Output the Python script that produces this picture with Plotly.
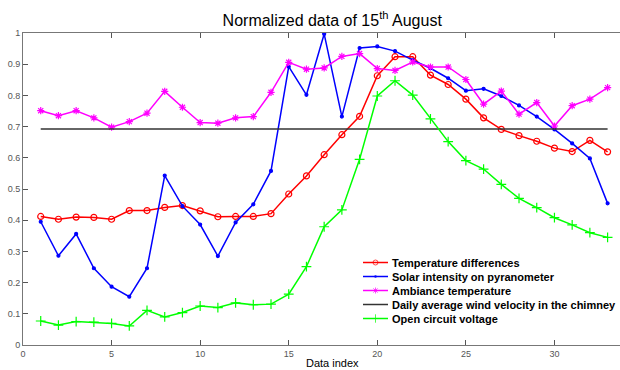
import plotly.graph_objects as go

idx = list(range(1, 34))

temp_diff = [0.412, 0.403, 0.410, 0.409, 0.403, 0.431, 0.431, 0.441, 0.447, 0.430,
             0.411, 0.412, 0.412, 0.421, 0.484, 0.542, 0.610, 0.674, 0.733, 0.863,
             0.924, 0.924, 0.865, 0.835, 0.788, 0.728, 0.691, 0.671, 0.653, 0.631,
             0.620, 0.656, 0.619]

solar = [0.395, 0.286, 0.356, 0.246, 0.187, 0.155, 0.246, 0.543, 0.445, 0.386,
         0.285, 0.393, 0.451, 0.558, 0.892, 0.802, 0.997, 0.732, 0.952, 0.957,
         0.942, 0.913, 0.887, 0.855, 0.815, 0.821, 0.798, 0.768, 0.732, 0.691,
         0.646, 0.598, 0.454]

ambiance = [0.751, 0.735, 0.751, 0.728, 0.698, 0.716, 0.743, 0.813, 0.762, 0.713,
            0.711, 0.728, 0.732, 0.810, 0.906, 0.884, 0.888, 0.925, 0.934, 0.886,
            0.880, 0.907, 0.891, 0.891, 0.851, 0.772, 0.814, 0.740, 0.777, 0.702,
            0.767, 0.788, 0.825]

wind_avg = [0.692] * 33

voltage = [0.077, 0.064, 0.075, 0.073, 0.069, 0.061, 0.111, 0.090, 0.104, 0.125,
           0.120, 0.135, 0.129, 0.131, 0.163, 0.251, 0.379, 0.433, 0.595, 0.798,
           0.847, 0.801, 0.725, 0.652, 0.591, 0.564, 0.515, 0.470, 0.440, 0.408,
           0.385, 0.360, 0.345]

names = ["Temperature differences", "Solar intensity on pyranometer",
         "Ambiance temperature", "Daily average wind velocity in the chimney",
         "Open circuit voltage"]

x_ticks = [0, 5, 10, 15, 20, 25, 30]
y_ticks = [0, 0.1, 0.2, 0.3, 0.4, 0.5, 0.6, 0.7, 0.8, 0.9, 1]
y_tick_text = ["0", "0.1", "0.2", "0.3", "0.4", "0.5", "0.6", "0.7", "0.8", "0.9", "1"]

# styles per series
colors = ["#ff0000", "#0000ff", "#ff00ff", "#333333", "#00ff00"]
symbols = ["circle-open", "circle", "asterisk-open", None, "cross-thin-open"]
msizes = [6, 3, 6, 0, 7]
series = [temp_diff, solar, ambiance, wind_avg, voltage]

fig = go.Figure()
for s, nm, c, sym, ms in zip(series, names, colors, symbols, msizes):
    if sym is None:
        fig.add_trace(go.Scatter(x=idx, y=s, name=nm, mode="lines", showlegend=False,
                                 line=dict(color=c, width=1.5)))
    else:
        fig.add_trace(go.Scatter(x=idx, y=s, name=nm, mode="lines+markers",
                                 showlegend=False,
                                 line=dict(color=c, width=1.5),
                                 marker=dict(symbol=sym, size=ms, color=c,
                                             line=dict(width=1.2, color=c))))

# hand-drawn compact legend (pixel-like overlay axes)
leg_x0, leg_x1, leg_top, leg_step = 363, 388, 262.5, 14
annotations = []
for k, (nm, c, sym, ms) in enumerate(zip(names, colors, symbols, msizes)):
    ry = leg_top + k * leg_step
    fig.add_trace(go.Scatter(
        x=[leg_x0, (leg_x0 + leg_x1) / 2, leg_x1], y=[ry, ry, ry],
        xaxis="x2", yaxis="y2", mode="lines+markers" if sym else "lines",
        showlegend=False, hoverinfo="skip",
        line=dict(color=c, width=1.5),
        marker=dict(symbol=sym or "circle", size=[0, max(ms - 1, 0), 0], color=c,
                    line=dict(width=1, color=c))))
    annotations.append(dict(text=nm, x=leg_x1 + 2, y=ry, xref="x2", yref="y2",
                            xanchor="left", yanchor="middle", showarrow=False,
                            font=dict(size=11, color="#000", weight="bold")))

annotations.append(dict(text="Data index", x=0.518, xref="paper", y=-0.058, yref="paper",
                        xanchor="center", yanchor="middle", showarrow=False,
                        font=dict(size=11, color="#000")))

fig.update_layout(
    width=620, height=370,
    margin=dict(l=23, r=0, t=33, b=25),
    paper_bgcolor="white", plot_bgcolor="white",
    font=dict(family="Liberation Sans, Arial, sans-serif", color="#000"),
    title=dict(text="Normalized data of 15<sup>th</sup> August",
               x=0.518, xref="paper", xanchor="center",
               y=0.945, yref="container", yanchor="middle",
               font=dict(size=16, color="#000")),
    showlegend=False,
    xaxis=dict(range=[0, 33.7], tickvals=x_ticks, ticks="inside", ticklen=5,
               tickcolor="#555", showline=True, linecolor="#777", linewidth=1,
               mirror="allticks", showgrid=False, zeroline=False,
               tickfont=dict(size=9, color="#555")),
    yaxis=dict(range=[0, 1], tickvals=y_ticks, ticktext=y_tick_text, ticks="inside",
               ticklen=5, tickcolor="#555", showline=True, linecolor="#777",
               linewidth=1, showgrid=False, zeroline=False,
               tickfont=dict(size=9, color="#555")),
    xaxis2=dict(range=[23, 620], overlaying="x", visible=False, fixedrange=True),
    yaxis2=dict(range=[345, 33], overlaying="y", visible=False, fixedrange=True),
    annotations=annotations,
)

fig.write_html("out.html")
